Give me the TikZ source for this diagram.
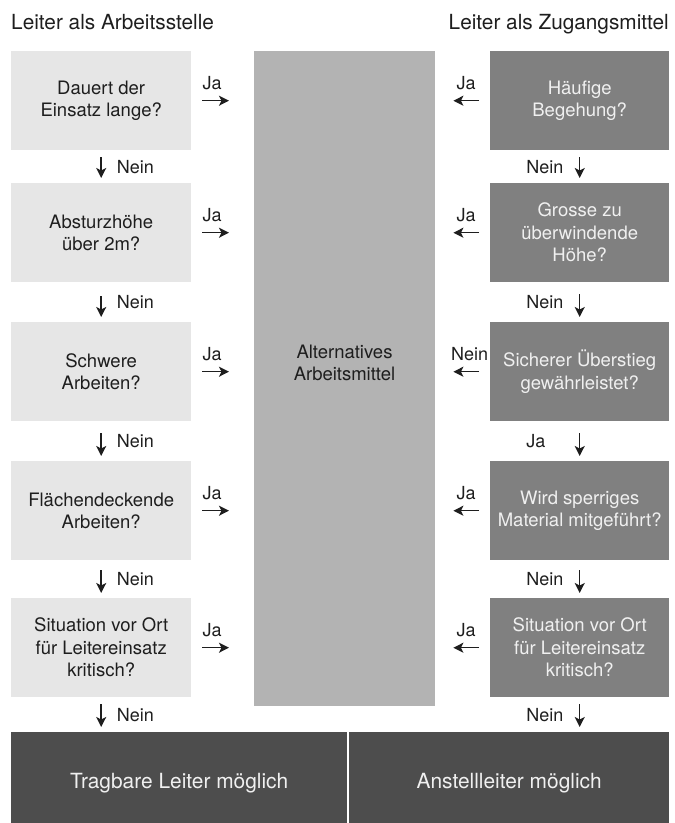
\documentclass[tikz,border=0pt]{standalone}
\usepackage{fontspec}
\setmainfont{TeX Gyre Heros}
\usetikzlibrary{arrows.meta}
\definecolor{lightbox}{HTML}{E6E6E6}
\definecolor{midbox}{HTML}{B3B3B3}
\definecolor{rightbox}{HTML}{808080}
\definecolor{darkbox}{HTML}{4D4D4D}
\definecolor{ink}{HTML}{1E1E1E}
\definecolor{paletext}{HTML}{F0F0F0}
\begin{document}
\begin{tikzpicture}[x=1pt,y=-1pt,
  boxtext/.style={font=\fontsize{18.5}{22.5}\selectfont, align=center, inner sep=0pt},
  lbox/.style={boxtext, fill=lightbox, text=ink, minimum width=180pt, minimum height=99pt, anchor=north west},
  rbox/.style={boxtext, fill=rightbox, text=paletext, minimum width=179pt, minimum height=99pt, anchor=north west},
  mbox/.style={fill=midbox, minimum width=181pt, minimum height=655pt, anchor=north west, inner sep=0pt},
  dbox/.style={fill=darkbox, text=paletext, font=\fontsize{20.9}{24}\selectfont, minimum height=91pt, anchor=north west, inner sep=0pt, text height=21pt, text depth=0pt},
  titletext/.style={font=\fontsize{20.8}{24}\selectfont, text=ink, inner sep=0pt},
  lbl/.style={font=\fontsize{18}{22}\selectfont, text=ink, inner sep=0pt},
  arr/.style={-{Stealth[length=10pt,width=10pt,inset=2.5pt]}, line width=1.5pt, draw=ink},
  vlink/.style={arr, shorten <=#1, shorten >=5pt},
  lja/.style={arr, shorten <=11pt, shorten >=25pt},
  rja/.style={arr, shorten <=11pt, shorten >=18pt},
  lnein/.style={lbl, anchor=west, xshift=15pt},
  rnein/.style={lbl, anchor=west, xshift=-54pt},
]
\useasboundingbox (0,0) rectangle (675,823);

% titles
\node[titletext, anchor=base west] (t1) at (11,29) {Leiter als Arbeitsstelle};
\node[titletext, anchor=base east] (t2) at (669,29) {Leiter als Zugangsmittel};

% middle box
\node[mbox] (mid) at (254,51) {};
\node[boxtext, text=ink] (midtext) at (344.5,363) {Alternatives\\Arbeitsmittel};

% left column
\node[lbox] (l1) at (11,51)  {Dauert der\\Einsatz lange?};
\node[lbox] (l2) at (11,183) {Absturzhöhe\\über 2m?};
\node[lbox] (l3) at (11,322) {Schwere\\Arbeiten?};
\node[lbox] (l4) at (11,461) {Flächendeckende\\Arbeiten?};
\node[lbox] (l5) at (11,598) {Situation vor Ort\\für Leitereinsatz\\kritisch?};

% right column
\node[rbox] (r1) at (490,51)  {Häufige\\Begehung?};
\node[rbox] (r2) at (490,183) {Grosse zu\\überwindende\\Höhe?};
\node[rbox] (r3) at (490,322) {Sicherer Überstieg\\gewährleistet?};
\node[rbox] (r4) at (490,461) {Wird sperriges\\Material mitgeführt?};
\node[rbox] (r5) at (490,598) {Situation vor Ort\\für Leitereinsatz\\kritisch?};

% bottom results
\node[dbox, minimum width=336pt] (bl) at (11,732) {Tragbare Leiter möglich};
\node[dbox, minimum width=320pt] (br) at (349,732) {Anstellleiter möglich};

% left vertical arrows
\draw[vlink=7pt]  (l1.south) -- (l2.north) node[lnein, midway] {Nein};
\draw[vlink=14pt] (l2.south) -- (l3.north) node[lnein, midway] {Nein};
\draw[vlink=12pt] (l3.south) -- (l4.north) node[lnein, midway] {Nein};
\draw[vlink=10pt] (l4.south) -- (l5.north) node[lnein, midway] {Nein};
\draw[vlink=7pt]  (l5.south) -- (l5.south |- bl.north) node[lnein, midway] {Nein};

% right vertical arrows
\draw[vlink=7pt]  (r1.south) -- (r2.north) node[rnein, midway] {Nein};
\draw[vlink=12pt] (r2.south) -- (r3.north) node[rnein, midway] {Nein};
\draw[vlink=12pt] (r3.south) -- (r4.north) node[rnein, midway] {Ja};
\draw[vlink=10pt] (r4.south) -- (r5.north) node[rnein, midway] {Nein};
\draw[vlink=7pt]  (r5.south) -- (r5.south |- br.north) node[rnein, midway] {Nein};

% left Ja arrows
\draw[lja] (l1.east) -- (l1.east -| mid.west) node[lbl, pos=0.33, above=10pt] {Ja};
\draw[lja] (l2.east) -- (l2.east -| mid.west) node[lbl, pos=0.33, above=10pt] {Ja};
\draw[lja] (l3.east) -- (l3.east -| mid.west) node[lbl, pos=0.33, above=10pt] {Ja};
\draw[lja] (l4.east) -- (l4.east -| mid.west) node[lbl, pos=0.33, above=10pt] {Ja};
\draw[lja] (l5.east) -- (l5.east -| mid.west) node[lbl, pos=0.33, above=10pt] {Ja};

% right arrows to middle
\draw[rja] (r1.west) -- (r1.west -| mid.east) node[lbl, pos=0.436, above=10pt] {Ja};
\draw[rja] (r2.west) -- (r2.west -| mid.east) node[lbl, pos=0.436, above=10pt] {Ja};
\draw[rja] (r3.west) -- (r3.west -| mid.east) node[lbl, pos=0.373, above=10pt] {Nein};
\draw[rja] (r4.west) -- (r4.west -| mid.east) node[lbl, pos=0.436, above=10pt] {Ja};
\draw[rja] (r5.west) -- (r5.west -| mid.east) node[lbl, pos=0.436, above=10pt] {Ja};
\end{tikzpicture}
\end{document}
